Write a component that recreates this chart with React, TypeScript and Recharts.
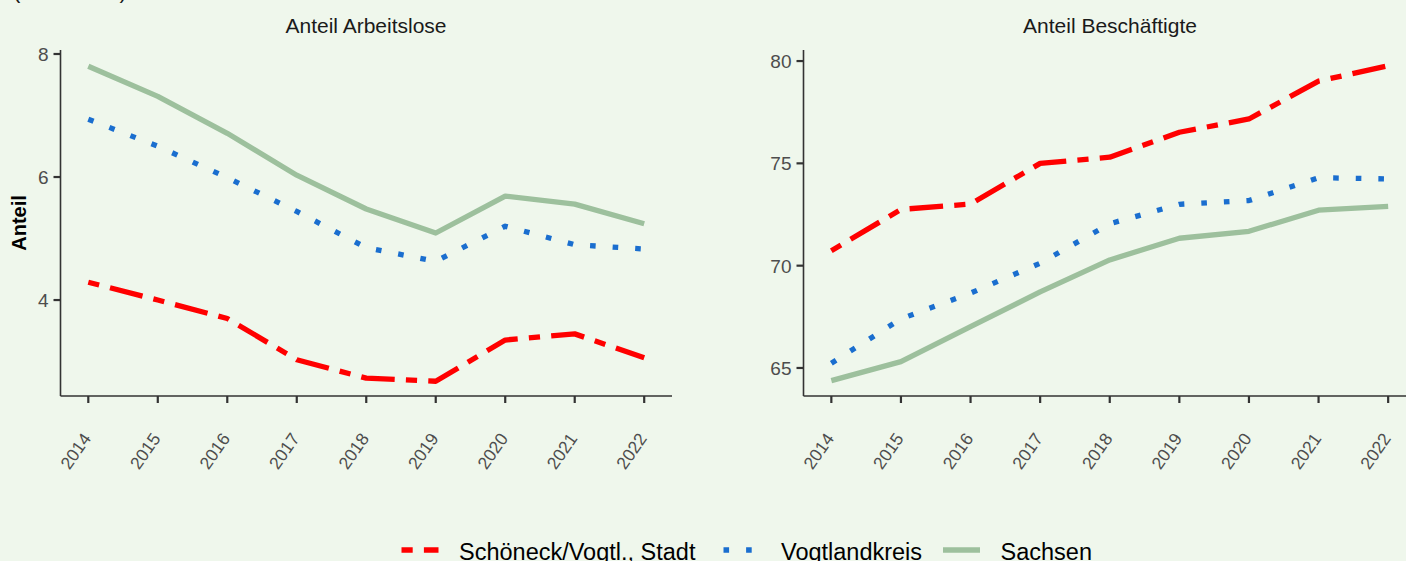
import React from "react";
import { LineChart, Line, XAxis, YAxis } from "recharts";

const years = [2014, 2015, 2016, 2017, 2018, 2019, 2020, 2021, 2022];

const alSchoeneck = [4.29, 4.0, 3.7, 3.03, 2.73, 2.68, 3.35, 3.45, 3.06];
const alVogtland = [6.94, 6.5, 5.99, 5.44, 4.85, 4.63, 5.2, 4.9, 4.83];
const alSachsen = [7.8, 7.31, 6.71, 6.03, 5.48, 5.09, 5.69, 5.56, 5.24];

const bsSchoeneck = [70.73, 72.75, 73.01, 75.0, 75.3, 76.52, 77.17, 79.02, 79.77];
const bsVogtland = [65.23, 67.4, 68.66, 70.12, 72.05, 73.0, 73.18, 74.3, 74.24];
const bsSachsen = [64.38, 65.31, 67.02, 68.72, 70.28, 71.34, 71.68, 72.71, 72.9];

const leftTicks = [4, 6, 8];
const rightTicks = [65, 70, 75, 80];

const seriesNames = ["Schöneck/Vogtl., Stadt", "Vogtlandkreis", "Sachsen"];
const seriesColors = ["#FF0000", "#1A6ECF", "#9DC09D"];
const seriesDash = ["11.2 11.2 33.6 11.2", "5.6 17", undefined];
const seriesKeys = ["s", "v", "x"];

const leftData = years.map((y, i) => ({ year: y, s: alSchoeneck[i], v: alVogtland[i], x: alSachsen[i] }));
const rightData = years.map((y, i) => ({ year: y, s: bsSchoeneck[i], v: bsVogtland[i], x: bsSachsen[i] }));

const FONT = "'Liberation Sans', Arial, Helvetica, sans-serif";
const BG = "#EFF7EC";
const AXIS = "#333333";

const XTick = (props: any) => {
  const { x, y, payload } = props;
  const ex = x + 3.5;
  const ey = y + 35.5;
  return (
    <text
      x={ex}
      y={ey}
      transform={`rotate(-55, ${ex}, ${ey})`}
      textAnchor="end"
      fontSize={17.5}
      fontFamily={FONT}
      fill="#4D4D4D"
    >
      {payload.value}
    </text>
  );
};

const YTick = (props: any) => {
  const { x, y, payload } = props;
  return (
    <text x={x} y={y} dy="0.36em" textAnchor="end" fontSize={19} fontFamily={FONT} fill="#4D4D4D">
      {payload.value}
    </text>
  );
};

const Panel = ({ data, domain, ticks, left, yWidth, marginRight }: any) => (
  <div style={{ position: "absolute", left, top: 0 }}>
    <LineChart
      width={700}
      height={561}
      data={data}
      margin={{ top: 50, right: marginRight, left: 0, bottom: 105 }}
    >
      <XAxis
        dataKey="year"
        type="number"
        domain={[2013.6, 2022.4]}
        ticks={years}
        allowDataOverflow
        height={60}
        tickSize={7}
        tickMargin={0}
        axisLine={{ stroke: AXIS, strokeWidth: 1.6 }}
        tickLine={{ stroke: AXIS, strokeWidth: 2.2 }}
        tick={XTick}
        interval={0}
      />
      <YAxis
        type="number"
        domain={domain}
        ticks={ticks}
        allowDataOverflow
        width={yWidth}
        tickSize={7}
        tickMargin={5}
        axisLine={{ stroke: AXIS, strokeWidth: 1.6 }}
        tickLine={{ stroke: AXIS, strokeWidth: 2.2 }}
        tick={YTick}
        interval={0}
      />
      {seriesKeys.map((k, i) => (
        <Line
          key={k}
          dataKey={k}
          type="linear"
          stroke={seriesColors[i]}
          strokeWidth={5.3}
          strokeDasharray={seriesDash[i]}
          strokeLinecap="butt"
          strokeLinejoin="round"
          dot={false}
          activeDot={false}
          isAnimationActive={false}
        />
      ))}
    </LineChart>
  </div>
);

const legendKeyX = [401.5, 723.5, 943];
const legendTextX = [459, 781, 1000.5];

export default function App() {
  return (
    <div
      style={{
        position: "absolute",
        left: 0,
        top: 0,
        width: 1406,
        height: 561,
        overflow: "hidden",
        background: BG,
        fontFamily: FONT,
      }}
    >
      <Panel data={leftData} domain={[2.44, 8.065]} ticks={leftTicks} left={0} yWidth={60.5} marginRight={28} />
      <Panel data={rightData} domain={[63.63, 80.54]} ticks={rightTicks} left={742} yWidth={61.5} marginRight={26} />
      <svg
        width={1406}
        height={561}
        style={{ position: "absolute", left: 0, top: 0, pointerEvents: "none", overflow: "visible" }}
      >
        <text x={13} y={-2.5} fontSize={22} fontFamily={FONT} fill="#1A1A1A">
          (in Prozent)
        </text>
        <text x={366} y={33} textAnchor="middle" fontSize={21} fontFamily={FONT} fill="#1A1A1A">
          Anteil Arbeitslose
        </text>
        <text x={1110} y={33} textAnchor="middle" fontSize={21} fontFamily={FONT} fill="#1A1A1A">
          Anteil Beschäftigte
        </text>
        <text
          x={26}
          y={223}
          transform="rotate(-90, 26, 223)"
          textAnchor="middle"
          fontSize={20}
          fontWeight="bold"
          fontFamily={FONT}
          fill="#000"
        >
          Anteil
        </text>
        {seriesNames.map((n, i) => (
          <g key={n}>
            <line
              x1={legendKeyX[i]}
              x2={legendKeyX[i] + 37}
              y1={550}
              y2={550}
              stroke={seriesColors[i]}
              strokeWidth={5.3}
              strokeDasharray={seriesDash[i]}
            />
            <text x={legendTextX[i]} y={559.5} fontSize={23.5} fontFamily={FONT} fill="#000">
              {n}
            </text>
          </g>
        ))}
      </svg>
    </div>
  );
}
